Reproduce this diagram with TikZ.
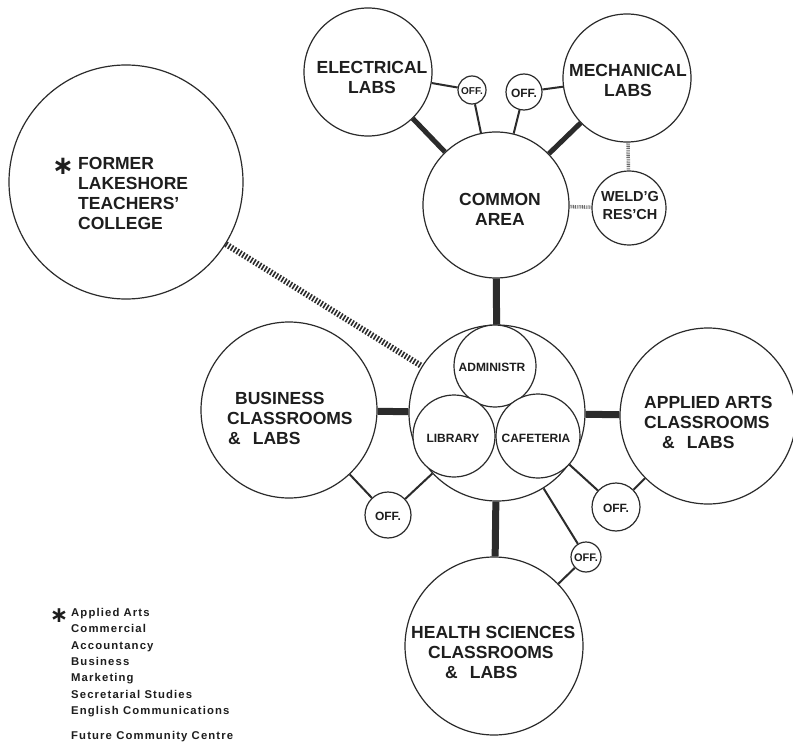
\documentclass[tikz,border=0pt]{standalone}
\usepackage{fontspec}
\setmainfont{Liberation Sans}
\newfontfamily\symfont{DejaVu Sans}
\definecolor{ink}{HTML}{2B2B2B}
\definecolor{txt}{HTML}{1E1E1E}
\definecolor{hatchgray}{HTML}{6A6A6A}
\newcommand{\biglab}{\fontsize{17.5}{20}\selectfont\bfseries}
\newcommand{\midlab}{\fontsize{14.5}{18}\selectfont\bfseries}
\newcommand{\smalllab}{\fontsize{12}{14}\selectfont\bfseries}
\newcommand{\tinylab}{\fontsize{10}{12}\selectfont\bfseries}
\newcommand{\legendfont}{\fontsize{11.3}{16.4}\selectfont\bfseries\addfontfeatures{LetterSpace=10}}
\newcommand{\starmark}{{\symfont\bfseries ∗}}
\begin{document}
\begin{tikzpicture}[x=1pt,y=-1pt,
  room/.style={circle,draw=ink,line width=1.2pt,fill=white,inner sep=0pt,minimum size=#1},
  label/.style={text=txt,inner sep=0pt,align=center},
  heavylink/.style={draw=ink,line width=7pt},
  mediumlink/.style={draw=ink,line width=5pt},
  thinlink/.style={draw=ink,line width=2pt},
  hatchlink/.style={draw=ink,line width=6pt,dash pattern=on 1.6pt off 1.7pt},
  finehatch/.style={draw=hatchgray,line width=3.5pt,dash pattern=on 0.9pt off 0.9pt}]
\useasboundingbox (0,0) rectangle (793,749);
\fill[white] (0,0) rectangle (793,749);

% rooms
\node[room=128pt] (elec) at (368,72) {};
\node[room=128pt] (mech) at (627,78) {};
\node[room=146pt] (common) at (496,205) {};
\node[room=74pt]  (weld) at (629,208) {};
\node[room=28pt]  (offE) at (472,90) {};
\node[room=36pt]  (offM) at (524,92) {};
\node[room=234pt] (lake) at (126,182) {};
\node[room=176pt] (core) at (497,413) {};
\node[room=82pt]  (admin) at (495,366) {};
\node[room=82pt]  (lib) at (454,436) {};
\node[room=84pt]  (cafe) at (538,436) {};
\node[room=176pt] (busi) at (289,410) {};
\node[room=46pt]  (offB) at (388,515) {};
\node[room=176pt] (arts) at (708,416) {};
\node[room=48pt]  (offA) at (616,507) {};
\node[room=178pt] (health) at (494,646) {};
\node[room=30pt]  (offH) at (586,557) {};

% links
\path[mediumlink] (elec) -- (common);
\path[mediumlink] (mech) -- (common);
\path[thinlink] (elec) -- (offE);
\path[thinlink] (offE) -- (common);
\path[thinlink] (offM) -- (common);
\path[thinlink] (offM) -- (mech);
\path[finehatch] (mech) -- (weld);
\path[finehatch] (common) -- (weld);
\path[heavylink] (common) -- (core);
\path[hatchlink] (lake) -- (core);
\path[heavylink] (busi) -- (core);
\path[heavylink] (core) -- (arts);
\path[heavylink] (core) -- (health);
\path[thinlink] (busi) -- (offB);
\path[thinlink] (offB) -- (core);
\path[thinlink] (cafe) -- (offA);
\path[thinlink] (offA) -- (arts);
\path[thinlink] (core) -- (offH);
\path[thinlink] (offH) -- (health);

% labels
\node[label,font=\biglab] (elecT) at (372,77) {ELECTRICAL\\LABS};
\node[label,font=\biglab] (mechT) at (628,80) {MECHANICAL\\LABS};
\node[label,font=\biglab] (commonT) at (500,209) {COMMON\\AREA};
\node[label,font=\midlab] (weldT) at (630,206) {WELD’G\\RES’CH};
\node[label,font=\tinylab] (offET) at (472,91) {OFF.};
\node[label,font=\smalllab] (offMT) at (524,93) {OFF.};
\node[label,font=\biglab,align=left,anchor=west] (lakeT) at (78,193) {FORMER\\LAKESHORE\\TEACHERS’\\COLLEGE};
\node[text=txt,inner sep=0pt,font=\fontsize{26}{26}\selectfont] (lakeStar) at (63,166) {\starmark};
\node[label,font=\smalllab] (adminT) at (492,367) {ADMINISTR};
\node[label,font=\smalllab] (libT) at (453,438) {LIBRARY};
\node[label,font=\smalllab] (cafeT) at (536,438) {CAFETERIA};
\node[label,font=\biglab,align=left,anchor=west] (busiT) at (227,418) {\hspace*{8pt}BUSINESS\\CLASSROOMS\\\hspace*{1pt}\&\hspace{12pt}LABS};
\node[label,font=\smalllab] (offBT) at (388,516) {OFF.};
\node[label,font=\biglab,align=left,anchor=west] (artsT) at (644,422) {APPLIED ARTS\\CLASSROOMS\\\hspace*{18pt}\&\hspace{12pt}LABS};
\node[label,font=\smalllab] (offAT) at (616,508) {OFF.};
\node[label,font=\biglab,align=left,anchor=west] (healthT) at (411,652) {HEALTH SCIENCES\\\hspace*{17pt}CLASSROOMS\\\hspace*{34pt}\&\hspace{12pt}LABS};
\node[label,font=\fontsize{11}{12}\selectfont\bfseries] (offHT) at (586,558) {OFF.};

% legend
\node[text=txt,inner sep=0pt,font=\fontsize{22}{22}\selectfont] (legStar) at (59,616) {\starmark};
\node[label,font=\legendfont,align=left,anchor=north west] (legend) at (71,608)
  {Applied Arts\\Commercial\\Accountancy\\Business\\Marketing\\Secretarial Studies\\English Communications};
\node[label,font=\legendfont,anchor=west] (future) at (71,737) {Future Community Centre};
\end{tikzpicture}
\end{document}
